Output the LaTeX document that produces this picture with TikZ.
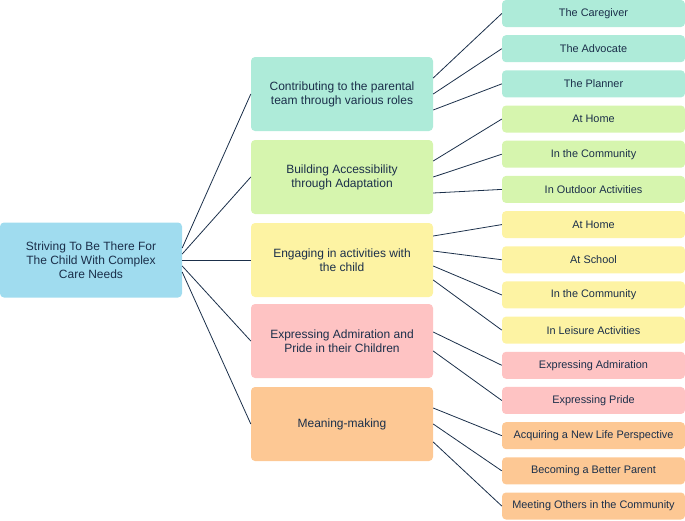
\documentclass[tikz,border=0pt]{standalone}
\usepackage{fontspec}
\setmainfont{Liberation Sans}
\usetikzlibrary{calc}
\definecolor{ink}{HTML}{1B2F4A}
\definecolor{cblue}{HTML}{A0DCEF}
\definecolor{cteal}{HTML}{AEEBD9}
\definecolor{cgreen}{HTML}{D6F5AE}
\definecolor{cyellow}{HTML}{FDF3A3}
\definecolor{cpink}{HTML}{FEC3C3}
\definecolor{corange}{HTML}{FDC894}
\tikzset{
    box/.style={rounded corners=4pt, text=ink, align=center, inner sep=0pt,
        font=\fontsize{12}{14}\selectfont},
    rootbox/.style={box, fill=cblue, minimum width=182pt, minimum height=75pt},
    midbox/.style={box, minimum width=182pt, minimum height=74pt},
    leafbox/.style={box, minimum width=183pt, minimum height=27pt,
        font=\fontsize{10.9}{13}\selectfont},
    link/.style={draw=ink, line width=0.8pt}
}
\begin{document}
\begin{tikzpicture}[x=1pt,y=-1pt]
	\useasboundingbox (0,0) rectangle (685,520);

	\node[rootbox] (root) at (91,260) {Striving To Be There For\\The Child With Complex\\Care Needs};

	\node[midbox,fill=cteal] (m1) at (342,94) {Contributing to the parental\\team through various roles};
	\node[midbox,fill=cgreen] (m2) at (342,177) {Building Accessibility\\through Adaptation};
	\node[midbox,fill=cyellow] (m3) at (342,260) {Engaging in activities with\\the child};
	\node[midbox,fill=cpink] (m4) at (342,341) {Expressing Admiration and\\Pride in their Children};
	\node[midbox,fill=corange] (m5) at (342,424) {Meaning-making};

	\foreach \i/\t/\c in {1/The Caregiver/cteal, 2/The Advocate/cteal, 3/The Planner/cteal,
		4/At Home/cgreen, 5/In the Community/cgreen, 6/In Outdoor Activities/cgreen,
		7/At Home/cyellow, 8/At School/cyellow, 9/In the Community/cyellow, 10/In Leisure Activities/cyellow,
		11/Expressing Admiration/cpink, 12/Expressing Pride/cpink,
		13/Acquiring a New Life Perspective/corange, 14/Becoming a Better Parent/corange,
		15/Meeting Others in the Community/corange}
		\node[leafbox,fill=\c] (l\i) at (593.5,{13.5+(\i-1)*35.18}) {\t};

	\foreach \m/\o in {1/-12,2/-6,3/0,4/6,5/12}
		\draw[link] ($(root.east)+(0,\o)$) -- (m\m.west);

	\foreach \m/\l/\o in {1/1/-16,1/2/0,1/3/16, 2/4/-16,2/5/0,2/6/16,
		3/7/-24,3/8/-9,3/9/6,3/10/20, 4/11/-9,4/12/10, 5/13/-16,5/14/0,5/15/18}
		\draw[link] ($(m\m.east)+(0,\o)$) -- (l\l.west);
\end{tikzpicture}
\end{document}
